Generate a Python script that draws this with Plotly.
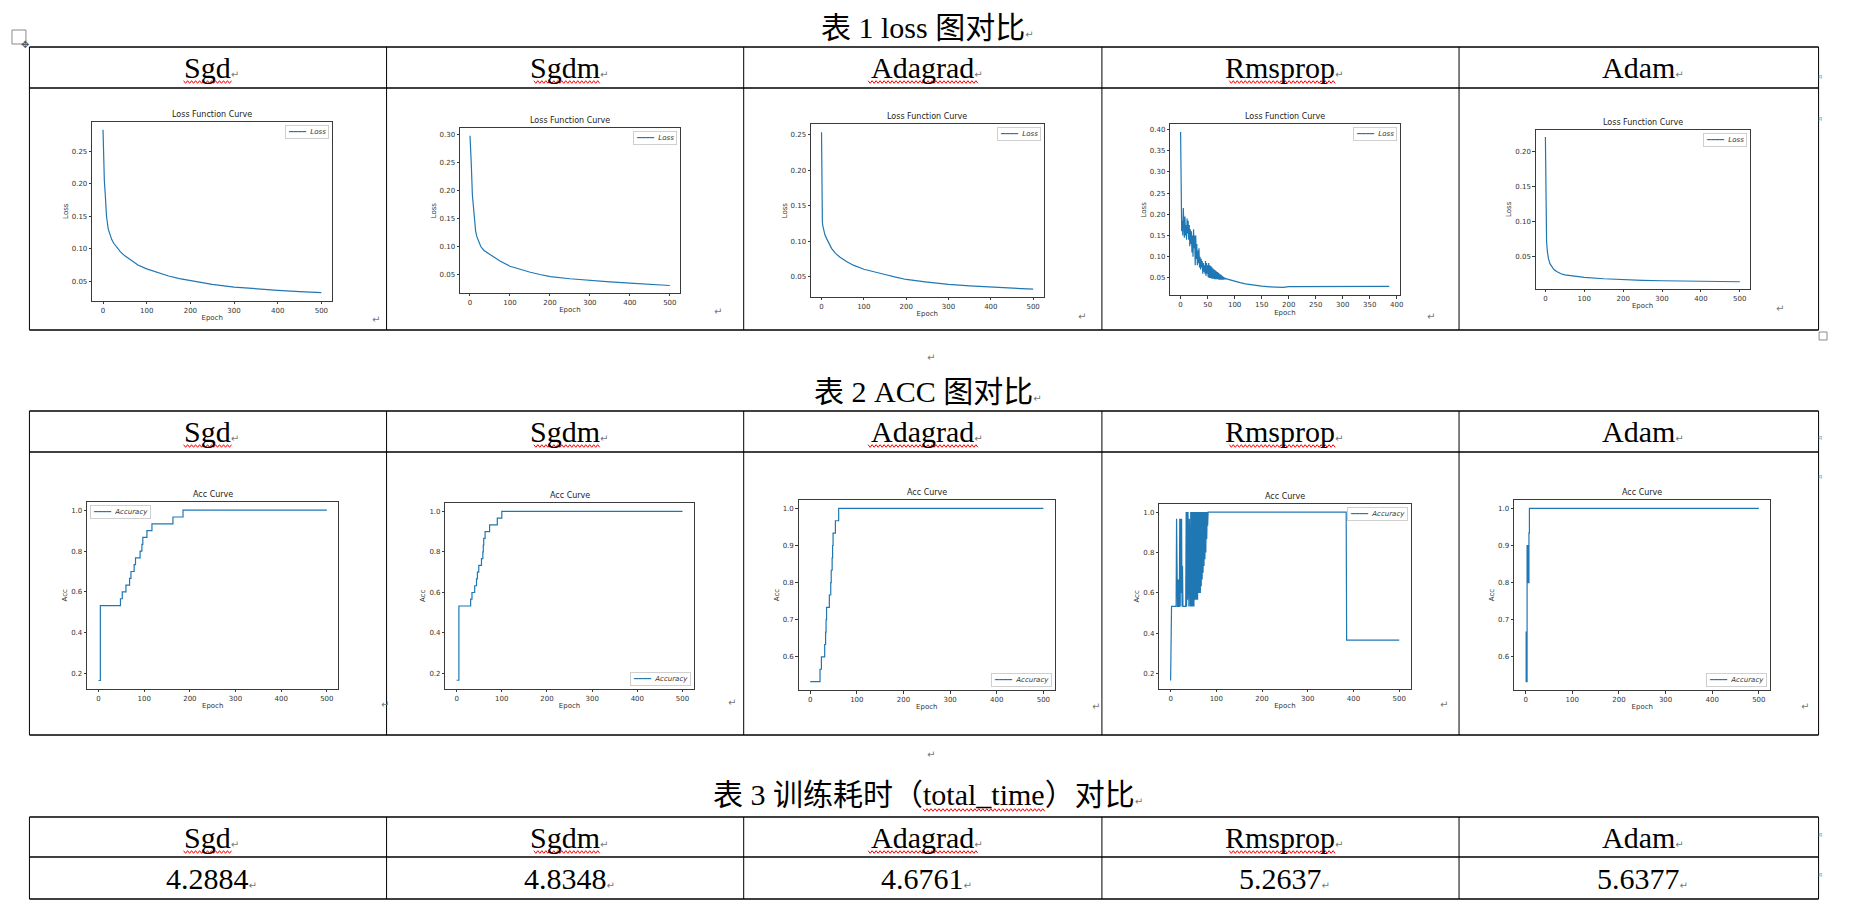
import plotly.graph_objects as go

W, H = 1852, 913

# ---------------- data ----------------
methods = ["Sgd", "Sgdm", "Adagrad", "Rmsprop", "Adam"]
total_time = ["4.2884", "4.8348", "4.6761", "5.2637", "5.6377"]
table_titles = ["表 1 loss 图对比", "表 2 ACC 图对比", "表 3 训练耗时（total_time）对比"]
loss_title = "Loss Function Curve"
acc_title = "Acc Curve"

epoch_ticks = [0, 100, 200, 300, 400, 500]
epoch_ticks_rms = [0, 50, 100, 150, 200, 250, 300, 350, 400]
loss_ticks_sgd = [0.05, 0.10, 0.15, 0.20, 0.25]
loss_ticks_sgdm = [0.05, 0.10, 0.15, 0.20, 0.25, 0.30]
loss_ticks_adagrad = [0.05, 0.10, 0.15, 0.20, 0.25]
loss_ticks_rms = [0.05, 0.10, 0.15, 0.20, 0.25, 0.30, 0.35, 0.40]
loss_ticks_adam = [0.05, 0.10, 0.15, 0.20]
acc_ticks_wide = [0.2, 0.4, 0.6, 0.8, 1.0]
acc_ticks_narrow = [0.6, 0.7, 0.8, 0.9, 1.0]

sgd_loss_epoch = [0, 1, 3, 5, 8, 12, 16, 20, 25, 30, 40, 50, 64, 80, 100, 125, 150, 175, 200, 250, 300, 350, 400, 450, 500]
sgd_loss = [0.283, 0.240, 0.205, 0.185, 0.150, 0.130, 0.121, 0.114, 0.108, 0.103, 0.095, 0.089, 0.082, 0.075, 0.069,
            0.063, 0.058, 0.054, 0.051, 0.045, 0.041, 0.038, 0.036, 0.034, 0.0325]

sgdm_loss_epoch = [0, 1, 3, 6, 10, 14, 17, 22, 27, 35, 51, 75, 100, 125, 151, 175, 201, 250, 300, 350, 400, 450, 500]
sgdm_loss = [0.2976, 0.270, 0.2514, 0.192, 0.151, 0.128, 0.118, 0.107, 0.100, 0.093, 0.0855, 0.074, 0.0648,
             0.059, 0.054, 0.050, 0.0464, 0.0425, 0.0393, 0.0368, 0.0346, 0.0325, 0.0304]

adagrad_loss_epoch = [0, 1, 2, 3, 5, 8, 12, 18, 24, 33, 43, 58, 75, 100, 125, 150, 175, 200, 250, 300, 350, 400, 450, 500]
adagrad_loss = [0.2533, 0.135, 0.127, 0.122, 0.1154, 0.109, 0.1037, 0.096, 0.0897, 0.083, 0.078, 0.072, 0.0664,
                0.0607, 0.0565, 0.0533, 0.0495, 0.0463, 0.0425, 0.0393, 0.0372, 0.0355, 0.034, 0.0327]

# Rmsprop: noisy per-epoch values for epochs 0..84, then smooth tail
rms_loss_head = [
    0.394, 0.215, 0.160, 0.185, 0.150, 0.215, 0.160, 0.145, 0.195, 0.150,
    0.175, 0.140, 0.190, 0.155, 0.185, 0.140, 0.175, 0.125, 0.165, 0.130,
    0.160, 0.110, 0.150, 0.100, 0.165, 0.120, 0.150, 0.080, 0.150, 0.095,
    0.130, 0.080, 0.115, 0.085, 0.120, 0.075, 0.100, 0.070, 0.095, 0.075,
    0.090, 0.060, 0.085, 0.065, 0.080, 0.060, 0.090, 0.055, 0.085, 0.060,
    0.080, 0.052, 0.085, 0.050, 0.080, 0.050, 0.078, 0.049, 0.075, 0.048,
    0.072, 0.048, 0.070, 0.047, 0.068, 0.047, 0.066, 0.047, 0.064, 0.047,
    0.062, 0.046, 0.060, 0.046, 0.058, 0.046, 0.056, 0.046, 0.054, 0.046,
    0.052, 0.047, 0.050, 0.048, 0.049,
]
rms_loss_tail_epoch = [85, 90, 100, 110, 120, 135, 150, 165, 180, 190, 200, 250, 300, 350, 386]
rms_loss_tail = [0.048, 0.046, 0.042, 0.039, 0.036, 0.033, 0.031, 0.029, 0.0275, 0.028, 0.0295, 0.030, 0.030, 0.030, 0.030]

adam_loss_epoch = [0, 1, 2, 3, 5, 8, 12, 16, 22, 29, 40, 50, 75, 100, 150, 200, 250, 300, 350, 400, 450, 500]
adam_loss = [0.2203, 0.120, 0.088, 0.072, 0.058, 0.047, 0.040, 0.0363, 0.032, 0.0292, 0.026, 0.0245, 0.0222,
             0.0208, 0.0189, 0.0175, 0.0167, 0.016, 0.0158, 0.0156, 0.0151, 0.0146]

# Accuracy (step curves: epoch where each new value starts)
sgd_acc_epoch = [0, 4, 48, 52, 60, 68, 71, 78, 81, 91, 95, 97, 106, 117, 163, 185, 500]
sgd_acc = [0.1667, 0.5333, 0.5667, 0.6, 0.6333, 0.6667, 0.7, 0.7333, 0.7667, 0.8, 0.8333, 0.8667, 0.9, 0.9333,
           0.9667, 1.0, 1.0]
sgdm_acc_epoch = [0, 5, 31, 34, 40, 44, 46, 49, 55, 58, 59, 60, 63, 73, 90, 100, 500]
sgdm_acc = [0.1667, 0.5333, 0.5667, 0.6, 0.6333, 0.6667, 0.7, 0.7333, 0.7667, 0.8, 0.8333, 0.8667, 0.9, 0.9333,
            0.9667, 1.0, 1.0]
adagrad_acc_epoch = [0, 21, 24, 31, 33, 34, 35, 41, 44, 45, 47, 48, 49, 54, 61, 500]
adagrad_acc = [0.5333, 0.5667, 0.6, 0.6333, 0.6667, 0.7, 0.7333, 0.7667, 0.8, 0.8333, 0.8667, 0.9, 0.9333, 0.9667,
               1.0, 1.0]
rms_acc_head = [
    0.1667, 0.5333, 0.5333, 0.5333, 0.5333, 0.5333, 0.5333, 0.5333, 0.5333, 0.5333,
    0.5333, 0.5333, 0.5333, 0.9667, 0.5333, 0.5333, 0.5333, 0.6667, 0.5333, 0.5333,
    0.9667, 0.5333, 0.9667, 0.6, 0.9667, 0.5333, 0.7333, 0.5333, 0.5333, 0.5333,
    0.5333, 0.5333, 0.5333, 0.5333, 1.0, 0.5333, 1.0, 0.5667, 1.0, 0.5333,
    0.5333, 0.9667, 0.5667, 0.5333, 1.0, 0.5333, 1.0, 0.5333, 1.0, 0.5333,
    1.0, 0.5333, 1.0, 0.5667, 1.0, 0.5667, 1.0, 0.5667, 1.0, 0.5667,
    1.0, 0.6, 1.0, 0.6, 1.0, 0.6, 1.0, 0.6333, 1.0, 0.6667,
    1.0, 0.7, 1.0, 0.7333, 1.0, 0.7667, 1.0, 0.8, 1.0, 0.8667,
    1.0, 0.9333,
]
rms_acc_tail_epoch = [82, 384, 385, 500]
rms_acc_tail = [1.0, 1.0, 0.3667, 0.3667]
adam_acc_epoch = [0, 1, 2, 3, 4, 5, 6, 7, 8, 500]
adam_acc = [0.5333, 0.6667, 0.5333, 0.9, 0.8, 0.9, 0.8, 0.9333, 1.0, 1.0]

rms_loss_epoch = list(range(len(rms_loss_head))) + rms_loss_tail_epoch
rms_loss = rms_loss_head + rms_loss_tail
rms_acc_epoch = list(range(len(rms_acc_head))) + rms_acc_tail_epoch
rms_acc = rms_acc_head + rms_acc_tail

# ---------------- layout helpers ----------------
BLUE = "#1f77b4"
SPINE = "#3a3a3a"
MPL = "DejaVu Sans"
SERIF = "Liberation Serif, Noto Sans CJK SC, serif"
MARK = '<span style="font-family:DejaVu Sans;font-size:10px;color:#777777">↵</span>'


def X(x):
    return x / W


def Y(y):
    return 1 - y / H


charts = [
    dict(x=sgd_loss_epoch, y=sgd_loss, name="Loss", title=loss_title, ytitle="Loss", yt=loss_ticks_sgd, xt=epoch_ticks, fmt=".2f", shape="linear", leg="ur"),
    dict(x=sgdm_loss_epoch, y=sgdm_loss, name="Loss", title=loss_title, ytitle="Loss", yt=loss_ticks_sgdm, xt=epoch_ticks, fmt=".2f", shape="linear", leg="ur"),
    dict(x=adagrad_loss_epoch, y=adagrad_loss, name="Loss", title=loss_title, ytitle="Loss", yt=loss_ticks_adagrad, xt=epoch_ticks, fmt=".2f", shape="linear", leg="ur"),
    dict(x=rms_loss_epoch, y=rms_loss, name="Loss", title=loss_title, ytitle="Loss", yt=loss_ticks_rms, xt=epoch_ticks_rms, fmt=".2f", shape="linear", leg="ur"),
    dict(x=adam_loss_epoch, y=adam_loss, name="Loss", title=loss_title, ytitle="Loss", yt=loss_ticks_adam, xt=epoch_ticks, fmt=".2f", shape="linear", leg="ur"),
    dict(x=sgd_acc_epoch, y=sgd_acc, name="Accuracy", title=acc_title, ytitle="Acc", yt=acc_ticks_wide, xt=epoch_ticks, fmt=".1f", shape="hv", leg="ul"),
    dict(x=sgdm_acc_epoch, y=sgdm_acc, name="Accuracy", title=acc_title, ytitle="Acc", yt=acc_ticks_wide, xt=epoch_ticks, fmt=".1f", shape="hv", leg="lr"),
    dict(x=adagrad_acc_epoch, y=adagrad_acc, name="Accuracy", title=acc_title, ytitle="Acc", yt=acc_ticks_narrow, xt=epoch_ticks, fmt=".1f", shape="hv", leg="lr"),
    dict(x=rms_acc_epoch, y=rms_acc, name="Accuracy", title=acc_title, ytitle="Acc", yt=acc_ticks_wide, xt=epoch_ticks, fmt=".1f", shape="linear", leg="ur"),
    dict(x=adam_acc_epoch, y=adam_acc, name="Accuracy", title=acc_title, ytitle="Acc", yt=acc_ticks_narrow, xt=epoch_ticks, fmt=".1f", shape="hv", leg="lr"),
]

# plot frames in page pixels (x0, y0, x1, y1)
frames = [
    (92.3, 121.7, 333.0, 300.7),
    (461.0, 128.3, 681.3, 293.0),
    (812.7, 124.3, 1046.0, 297.0),
    (1172.7, 124.3, 1402.7, 295.3),
    (1539.0, 129.7, 1753.3, 289.0),
    (87.3, 501.7, 339.0, 689.0),
    (446.3, 503.0, 695.3, 688.7),
    (800.3, 499.7, 1057.3, 690.3),
    (1161.7, 503.7, 1413.7, 689.0),
    (1517.3, 499.7, 1774.3, 690.3),
]

fig = go.Figure()
layout = {}
annotations = []
shapes = []

for i, (c, fr) in enumerate(zip(charts, frames), start=1):
    x0, y0, x1, y1 = fr
    s = "" if i == 1 else str(i)
    xlo, xhi = min(c["x"]), max(c["x"])
    ylo, yhi = min(c["y"]), max(c["y"])
    xp, yp = 0.05 * (xhi - xlo), 0.05 * (yhi - ylo)
    fig.add_trace(go.Scatter(
        x=c["x"], y=c["y"], mode="lines", name=c["name"], showlegend=False,
        line=dict(color=BLUE, width=1.2, shape=c["shape"]),
        xaxis="x" + s, yaxis="y" + s, hoverinfo="skip"))
    common = dict(showline=True, mirror=True, linecolor=SPINE, linewidth=0.8,
                  ticks="outside", ticklen=2.5, tickwidth=0.8, tickcolor=SPINE,
                  showgrid=False, zeroline=False, fixedrange=True,
                  tickfont=dict(family=MPL, size=7, color="#333333"))
    layout["xaxis" + s] = dict(domain=[X(x0), X(x1)], anchor="y" + s,
                               range=[xlo - xp, xhi + xp], tickmode="array", tickvals=c["xt"],
                               title=dict(text="Epoch", font=dict(family=MPL, size=7, color="#333333"), standoff=1),
                               **common)
    layout["yaxis" + s] = dict(domain=[Y(y1), Y(y0)], anchor="x" + s,
                               range=[ylo - yp, yhi + yp], tickmode="array", tickvals=c["yt"], tickformat=c["fmt"],
                               title=dict(text=c["ytitle"], font=dict(family=MPL, size=7, color="#333333"), standoff=2),
                               **common)
    # compact matplotlib-style legend box
    if c["leg"] == "ur":
        lx, ly, xa, ya = X(x1 - 3), Y(y0 + 3), "right", "top"
    elif c["leg"] == "ul":
        lx, ly, xa, ya = X(x0 + 3), Y(y0 + 3), "left", "top"
    else:
        lx, ly, xa, ya = X(x1 - 3), Y(y1 - 3), "right", "bottom"
    annotations.append(dict(
        text='<span style="color:%s">━━━━</span>  <i>%s</i>' % (BLUE, c["name"]),
        xref="paper", yref="paper", x=lx, y=ly, xanchor=xa, yanchor=ya, showarrow=False,
        bgcolor="white", bordercolor="#cfcfcf", borderwidth=1, borderpad=2,
        font=dict(family=MPL, size=7, color="#333333")))
    annotations.append(dict(text=c["title"], xref="x%s domain" % s, yref="y%s domain" % s, x=0.5, y=1,
                            xanchor="center", yanchor="bottom", yshift=1, showarrow=False,
                            font=dict(family=MPL, size=8, color="#222222")))

# ---------------- Word-like tables ----------------
col_x = [29.5, 387.4, 745.3, 1104.3, 1462.2, 1822.5]
tables = [(47, 88, 330), (411, 452, 735), (817, 857, 899)]
title_y = [27, 391, 794]

for (ta, tb, tc) in tables:
    for yy in (ta, tb, tc):
        shapes.append(dict(type="line", xref="paper", yref="paper", x0=X(col_x[0]), x1=X(col_x[-1]),
                           y0=Y(yy), y1=Y(yy), line=dict(color="black", width=1.6)))
    for xx in col_x:
        shapes.append(dict(type="line", xref="paper", yref="paper", x0=X(xx), x1=X(xx),
                           y0=Y(ta), y1=Y(tc), line=dict(color="black", width=1)))

for t, ty in zip(table_titles, title_y):
    annotations.append(dict(text=t + MARK, xref="paper", yref="paper", x=X(925.8), y=Y(ty),
                            xanchor="center", yanchor="middle", xshift=4, showarrow=False,
                            font=dict(family=SERIF, size=30, color="black")))

centers = [(col_x[k] + col_x[k + 1]) / 2 for k in range(5)]
for (ta, tb, tc) in tables:
    for k, m in enumerate(methods):
        annotations.append(dict(text=m + MARK, xref="paper", yref="paper", x=X(centers[k]), y=Y((ta + tb) / 2),
                                xanchor="center", yanchor="middle", xshift=4, showarrow=False,
                                font=dict(family=SERIF, size=30, color="black")))
ta, tb, tc = tables[2]
for k, v in enumerate(total_time):
    annotations.append(dict(text=v + MARK, xref="paper", yref="paper", x=X(centers[k]), y=Y((tb + tc) / 2),
                            xanchor="center", yanchor="middle", xshift=4, showarrow=False,
                            font=dict(family=SERIF, size=30, color="black")))

# paragraph marks in picture cells and between tables
marks = [(371, 319), (720, 311), (1084, 316), (1440, 316), (1790, 308),
         (380, 712), (734, 710), (1098, 714), (1453, 712), (1815, 714),
         (933, 357), (933, 762)]
for mx, my in marks:
    annotations.append(dict(text="↵", xref="paper", yref="paper", x=X(mx), y=Y(my), showarrow=False,
                            font=dict(family=MPL, size=10, color="#777777")))
for my in [71, 113, 438, 477, 841, 881]:
    annotations.append(dict(text="¤", xref="paper", yref="paper", x=X(1829), y=Y(my), showarrow=False,
                            font=dict(family=MPL, size=7, color="#999999")))

# move handle and resize handle
shapes.append(dict(type="rect", xref="paper", yref="paper", x0=X(12), x1=X(26), y0=Y(44), y1=Y(30),
                   line=dict(color="#8a8a8a", width=1), fillcolor="white"))
annotations.append(dict(text="✥", xref="paper", yref="paper", x=X(19), y=Y(37), showarrow=False,
                        font=dict(family=MPL, size=10, color="#555555")))
shapes.append(dict(type="rect", xref="paper", yref="paper", x0=X(1823), x1=X(1831), y0=Y(340), y1=Y(332),
                   line=dict(color="#8a8a8a", width=1), fillcolor="white"))


# red spell-check squiggles
def squiggle(xa, xb, yy, amp=1.3, step=2.0):
    pts = []
    xx, k = xa, 0
    while xx <= xb:
        pts.append((xx, yy + (amp if k % 2 else -amp)))
        xx += step
        k += 1
    return "M " + " L ".join("%.6f,%.6f" % (X(px), Y(py)) for px, py in pts)


sq_spans = [(184, 233), (535, 602), (870, 980), (1232, 1338)]
for (ta, tb, tc) in tables:
    for xa, xb in sq_spans:
        shapes.append(dict(type="path", xref="paper", yref="paper", path=squiggle(xa, xb, ta + 35),
                           line=dict(color="#ff0000", width=1)))
shapes.append(dict(type="path", xref="paper", yref="paper", path=squiggle(925, 1047, 810),
                   line=dict(color="#ff0000", width=1)))

fig.update_layout(width=W, height=H, margin=dict(l=0, r=0, t=0, b=0),
                  paper_bgcolor="white", plot_bgcolor="white", showlegend=False,
                  annotations=annotations, shapes=shapes, **layout)

fig.write_html("out.html", post_script="document.body.style.margin='0';")
